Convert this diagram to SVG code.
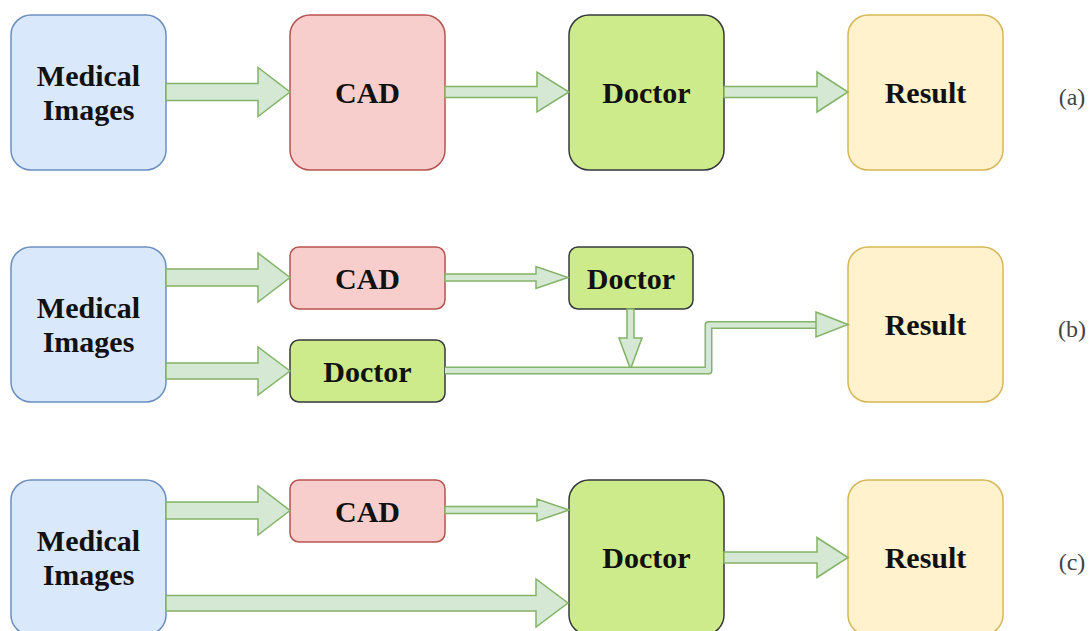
<svg xmlns="http://www.w3.org/2000/svg" width="1090" height="631" viewBox="0 0 1090 631">
  <style>
    .img { fill: #dae8fc; stroke: #6c8ebf; stroke-width: 1.5; }
    .cad { fill: #f8cecc; stroke: #b85450; stroke-width: 1.5; }
    .doc { fill: #cdeb8b; stroke: #36393d; stroke-width: 1.5; }
    .res { fill: #fff2cc; stroke: #d6b656; stroke-width: 1.5; }
    .lbl { font-family: "Liberation Serif", "Times New Roman", serif; font-weight: bold; font-size: 30px; fill: #111; text-anchor: middle; }
    .tag { font-family: "Liberation Serif", "Times New Roman", serif; font-size: 24px; fill: #444; text-anchor: middle; }
    .arr { fill: #d5e8d4; stroke: #82b366; stroke-width: 1.5; stroke-linejoin: miter; }
    .pipeOut { fill: none; stroke: #82b366; stroke-width: 8; stroke-linejoin: round; }
    .pipeIn { fill: none; stroke: #d5e8d4; stroke-width: 5; stroke-linejoin: round; }
  </style>

  <!-- Row (a) -->
  <g id="a-images"><rect class="img" x="11" y="15" width="155" height="155" rx="20"/><text class="lbl" x="88.5" y="86">Medical</text><text class="lbl" x="88.5" y="120">Images</text></g>
  <g id="a-cad"><rect class="cad" x="290" y="15" width="155" height="155" rx="20"/><text class="lbl" x="367.5" y="103">CAD</text></g>
  <g id="a-doctor"><rect class="doc" x="569" y="15" width="155" height="155" rx="20"/><text class="lbl" x="646.5" y="103">Doctor</text></g>
  <g id="a-result"><rect class="res" x="848" y="15" width="155" height="155" rx="20"/><text class="lbl" x="925.5" y="103">Result</text></g>
  <text class="tag" x="1072" y="105">(a)</text>

  <!-- Row (b) -->
  <g id="b-images"><rect class="img" x="11" y="247" width="155" height="155" rx="20"/><text class="lbl" x="88.5" y="318">Medical</text><text class="lbl" x="88.5" y="352">Images</text></g>
  <g id="b-cad"><rect class="cad" x="290" y="247" width="155" height="62" rx="9"/><text class="lbl" x="367.5" y="288.5">CAD</text></g>
  <g id="b-doctor-cad"><rect class="doc" x="569" y="247" width="124" height="62" rx="9"/><text class="lbl" x="631" y="288.5">Doctor</text></g>
  <g id="b-doctor"><rect class="doc" x="290" y="340" width="155" height="62" rx="9"/><text class="lbl" x="367.5" y="381.5">Doctor</text></g>
  <g id="b-result"><rect class="res" x="848" y="247" width="155" height="155" rx="20"/><text class="lbl" x="925.5" y="335">Result</text></g>
  <text class="tag" x="1072" y="337">(b)</text>

  <!-- Row (c) -->
  <g id="c-images"><rect class="img" x="11" y="480" width="155" height="155" rx="20"/><text class="lbl" x="88.5" y="551">Medical</text><text class="lbl" x="88.5" y="585">Images</text></g>
  <g id="c-cad"><rect class="cad" x="290" y="480" width="155" height="62" rx="9"/><text class="lbl" x="367.5" y="521.5">CAD</text></g>
  <g id="c-doctor"><rect class="doc" x="569" y="480" width="155" height="155" rx="20"/><text class="lbl" x="646.5" y="568">Doctor</text></g>
  <g id="c-result"><rect class="res" x="848" y="480" width="155" height="155" rx="20"/><text class="lbl" x="925.5" y="568">Result</text></g>
  <text class="tag" x="1072" y="570">(c)</text>

  <!-- Connectors -->
  <g id="connectors">
    <!-- (a) -->
    <polygon class="arr" points="166,83.5 258,83.5 258,67.5 290,92 258,116.5 258,100.5 166,100.5"/>
    <polygon class="arr" points="445,86.5 537,86.5 537,72 569,92 537,112 537,97.5 445,97.5"/>
    <polygon class="arr" points="724,86.5 817,86.5 817,72 848,92 817,112 817,97.5 724,97.5"/>

    <!-- (b) -->
    <polygon class="arr" points="166,269 258,269 258,253 290,277.5 258,302 258,286 166,286"/>
    <polygon class="arr" points="166,363 258,363 258,347 290,371 258,395 258,379 166,379"/>
    <polygon class="arr" points="445,274 536,274 536,266.5 568,277.5 536,288.5 536,281 445,281"/>
    <polygon class="arr" points="627,309 627,338 619,338 630.5,369 642,338 634,338 634,309"/>
    <path class="pipeOut" d="M445,370.5 H708.5 V325 H818"/>
    <path class="pipeIn" d="M445,370.5 H708.5 V325 H819"/>
    <polygon class="arr" points="816,312 848,324.5 816,337"/>

    <!-- (c) -->
    <polygon class="arr" points="166,502 258,502 258,486 290,510.5 258,535 258,519 166,519"/>
    <polygon class="arr" points="445,506.5 537,506.5 537,499 569,510 537,521 537,513.5 445,513.5"/>
    <polygon class="arr" points="166,595.5 536,595.5 536,579 568,603 536,627 536,611 166,611"/>
    <polygon class="arr" points="724,552 817,552 817,537.5 848,557.5 817,577.5 817,563 724,563"/>
  </g>
</svg>
